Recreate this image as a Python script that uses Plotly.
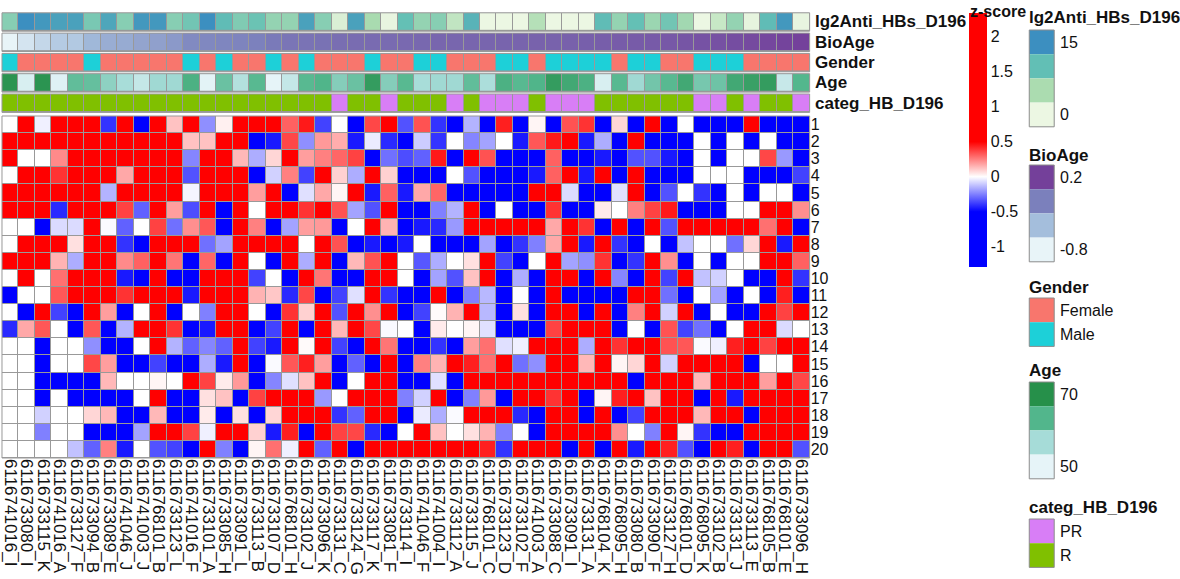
import plotly.graph_objects as go

W, H = 1180, 579
FONT = "Liberation Sans"

# ---- samples (columns) ----
samples = [
    "6116741016_I", "6116733080_I", "6116733115_K", "6116741016_A", "6116733127_F",
    "6116733094_B", "6116733089_E", "6116741046_J", "6116741003_J", "6116768101_B",
    "6116733123_L", "6116741016_F", "6116733101_A", "6116733085_H", "6116733091_L",
    "6116733113_B", "6116733107_D", "6116768101_H", "6116733102_J", "6116733096_K",
    "6116733131_C", "6116733124_G", "6116733117_K", "6116733081_F", "6116733114_I",
    "6116741046_F", "6116741004_I", "6116733112_A", "6116733115_J", "6116768101_C",
    "6116733123_D", "6116733102_F", "6116741003_A", "6116733088_C", "6116733091_I",
    "6116733131_A", "6116768104_K", "6116768095_H", "6116733080_B", "6116733090_F",
    "6116733127_H", "6116768101_D", "6116768095_K", "6116733102_B", "6116733131_J",
    "6116733113_E", "6116768105_B", "6116768101_E", "6116733096_H",
]
row_ids = [str(i) for i in range(1, 21)]

# ---- column annotations ----
ig2anti = [8, 16, 15, 14, 14, 9, 13.5, 8, 15, 15, 8, 9.5, 16, 11, 8.5, 10, 7, 7, 14, 8,
           1.5, 14, 5.5, 0.3, 10.5, 7, 8, 3.5, 12, 0, 0, 0, 4.5, 0, 0, 0, 11, 7, 10.5, 6.5,
           9.5, 6, 0, 3, 7, 0.5, 11, 15, 0.3]
bio_age = [-1.0, -0.87, -0.76, -0.66, -0.64, -0.51, -0.43, -0.41, -0.36, -0.33,
           -0.28, -0.17, -0.16, -0.14, -0.13, -0.11, -0.06, -0.02, -0.01, 0.0,
           0.03, 0.04, 0.05, 0.05, 0.06, 0.07, 0.08, 0.08, 0.09, 0.09,
           0.1, 0.1, 0.11, 0.11, 0.12, 0.13, 0.14, 0.15, 0.16, 0.17,
           0.18, 0.2, 0.22, 0.23, 0.26, 0.28, 0.3, 0.32, 0.34]
gender = ["Male", "Female", "Female", "Female", "Female", "Male", "Female", "Female", "Female", "Female",
          "Female", "Male", "Female", "Male", "Female", "Female", "Male", "Female", "Male", "Female",
          "Female", "Female", "Male", "Female", "Female", "Male", "Male", "Female", "Female", "Female",
          "Male", "Male", "Female", "Male", "Male", "Male", "Male", "Female", "Male", "Male",
          "Female", "Female", "Male", "Male", "Male", "Female", "Female", "Female", "Female"]
age = [73, 48, 73, 47, 63, 62.5, 58, 55, 51, 56, 56, 66, 46.5, 62, 53.5, 64, 46, 51, 64, 65,
       59, 62, 71, 59, 64, 55, 56, 56, 63, 54.5, 66, 64, 65, 71, 68, 66, 48, 64, 56, 61,
       64, 68, 60.5, 61.5, 68, 70, 71, 50.5, 64.5]
categ = ["R"] * 20 + ["PR", "R", "R", "PR", "R", "R", "R", "PR", "R", "PR",
                      "PR", "PR", "R", "PR", "PR", "PR", "R", "R", "R", "R",
                      "R", "R", "PR", "PR", "R", "PR", "R", "R", "PR"]

# ---- z-scores, one list per row (rows 1..20) ----
zscores = [
    [0, 1.2, -0.03, 1.2, 1.2, 1.2, -0.4, 1.2, -0.9, 1.2, 0.12, 1.2, -0.22, 0.03, 1.2, 1.2, 1.2, 0.31, 0.45, -0.37,
     0, -0.9, 0.36, 1.2, -0.34, 0.34, -0.4, -0.9, -0.15, -0.9, 0.44, -0.9, 0.02, -0.9, 0.34, 0.4, -0.9, 0.08, -0.9, 1.2,
     -0.9, 0, -0.9, -0.9, -0.9, 1.2, -0.9, -0.9, -0.9],
    [1.2, 1.2, 1.2, 1.2, 1.2, 1.2, 1.2, 1.2, 1.2, 1.2, 1.2, 0.12, 0.12, 1.2, 1.2, -0.9, -0.45, 0.36, -0.22, 0.2,
     0.16, -0.45, -0.04, -0.42, -0.9, -0.1, -0.4, 0, -0.24, -0.18, 0, -0.45, 0.33, 0.45, 1.2, -0.45, -0.16, -0.9, 1.2, -0.9,
     -0.9, -0.9, 0, -0.9, 0, -0.9, 0, -0.9, -0.9],
    [1.2, 0, 0, 0.23, 1.2, 1.2, 1.2, 1.2, 1.2, 1.2, 1.2, -0.24, 1.2, 1.2, 0.14, -0.16, 0.08, 1.2, 0.19, 0.25,
     0.3, 0.37, -0.9, -0.28, -0.35, -0.31, 0.45, -0.9, 1.2, 0.34, -0.9, -0.9, -0.9, 0.31, -0.9, -0.9, -0.45, -0.9, -0.34, -0.34,
     -0.45, -0.9, 0, -0.9, 0, 0, 0.36, -0.2, -0.9],
    [0, 1.2, 1.2, 0.4, 1.2, 1.2, 1.2, 0.17, 1.2, 1.2, 1.2, -0.34, 1.2, 1.2, 1.2, -0.9, -0.09, 0.25, -0.37, 1.2,
     0.09, -0.16, 1.2, 0.09, -0.9, -0.9, -0.9, 0, -0.34, -0.9, -0.9, -0.9, -0.45, 0.31, 1.2, -0.45, 1.2, -0.9, 1.2, -0.9,
     -0.9, -0.5, 0, 0, 0, -0.9, -0.9, -0.9, -0.37],
    [1.2, 1.2, 1.2, 1.2, 1.2, 1.2, -0.15, 1.2, 1.2, 1.2, 1.2, -0.02, 1.2, 1.2, 1.2, 0.19, 1.2, -0.9, -0.06, 0.17,
     0.02, 1.2, -0.45, 0.31, -0.45, 0.17, 0.3, -0.9, -0.9, -0.9, -0.9, -0.9, 1.2, 1.2, -0.07, -0.9, -0.9, -0.06, 1.2, -0.9,
     -0.34, 0, -0.4, -0.9, 0, -0.9, 0, 0, -0.9],
    [1.2, 1.2, 1.2, -0.42, 1.2, 1.2, 1.2, 0.37, -0.31, 1.2, 0.19, -0.35, 1.2, -0.9, 1.2, 0, 1.2, 1.2, 0.4, 1.2,
     0.34, -0.18, -0.34, 1.2, -0.9, -0.9, -0.25, -0.15, 1.2, -0.9, 0, -0.9, -0.9, 0.4, -0.9, -0.9, 0.04, 0, 0.25, 0.37,
     0.45, -0.9, -0.9, -0.9, 0, 0, 1.2, 1.2, 0.22],
    [0, 0, -0.9, -0.07, -0.07, 1.2, -0.01, -0.31, 0, 0.37, -0.28, 0.22, 0.33, -0.9, 1.2, 0.25, -0.9, -0.18, 0.19, 0.2,
     -0.5, 0, 1.2, 0.15, -0.9, -0.45, -0.42, -0.2, 1.2, 1.2, 1.2, 1.2, 1.2, 0.17, 1.2, 0.4, -0.9, 1.2, -0.9, 1.2,
     -0.34, 1.2, 1.2, 1.2, 1.2, 1.2, 0.28, 1.2, -0.9],
    [0, 1.2, 1.2, 1.2, 0.06, 1.2, 1.2, -0.4, -0.9, 1.2, 1.2, 1.2, -0.28, -0.18, 1.2, 1.2, 1.2, 1.2, 0, 1.2,
     0.34, -0.9, -0.45, -0.9, -0.45, 0, -0.9, -0.9, -0.9, -0.18, -0.9, -0.4, -0.25, 0.17, 1.2, -0.45, 1.2, -0.4, -0.9, 0,
     -0.9, -0.12, 0, 0, -0.28, 0.08, 1.2, -0.45, 1.2],
    [1.2, 1.2, 1.2, 0.15, -0.16, 1.2, 1.2, 0.23, 0.31, 1.2, 0.27, -0.9, 0.3, -0.9, 1.2, 0, -0.9, 1.2, -0.16, 1.2,
     -0.9, 0.14, 0.34, 1.2, 0, -0.33, -0.16, 0, 0.06, 1.2, -0.37, -0.9, 0, 1.2, -0.18, -0.22, 0.4, -0.9, -0.4, 1.2,
     0.22, -0.9, 0, -0.9, 0, 0, 1.2, 1.2, 0.31],
    [0, 1.2, 0, 0.28, 1.2, 1.2, 1.2, -0.45, -0.9, 1.2, -0.9, -0.9, 1.2, 1.2, 1.2, -0.37, 0, -0.9, 1.2, 0.27,
     -0.9, -0.9, 1.2, 1.2, 0, -0.9, -0.18, -0.34, 0.12, 1.2, -0.9, -0.16, -0.9, 1.2, 1.2, -0.9, 1.2, -0.24, -0.9, 1.2,
     -0.37, 1.2, -0.12, -0.09, 0, -0.9, -0.9, 1.2, -0.4],
    [-0.9, 0, 0, 0.33, 1.2, 1.2, 1.2, 0.4, 1.2, 1.2, 1.2, -0.45, 1.2, 1.2, 1.2, 0.15, 0.11, -0.42, 0.36, -0.9,
     -0.37, -0.06, 1.2, -0.4, -0.9, -0.9, 1.2, -0.9, -0.25, -0.14, -0.9, 0, -0.9, 1.2, -0.9, -0.9, -0.9, -0.9, 1.2, 1.2,
     -0.28, -0.9, 0, -0.18, -0.9, 0, -0.9, 0.44, -0.9],
    [0, -0.9, 1.2, -0.37, -0.9, 1.2, 0.19, -0.9, 0, 1.2, -0.9, 0, -0.25, 1.2, 1.2, 0, -0.9, 0.4, 0.09, 1.2,
     -0.34, 1.2, 0.22, 1.2, -0.9, -0.37, 0.01, 0.15, 1.2, -0.14, -0.9, 0.06, -0.9, 1.2, 1.2, -0.9, 1.2, -0.9, 0.25, 1.2,
     -0.09, 1.2, -0.9, 0, -0.9, -0.9, 1.2, 0.37, 1.2],
    [-0.42, 0.17, 0.33, 0, -0.9, 0.33, -0.9, -0.15, 1.2, 1.2, 0.4, -0.9, -0.45, 1.2, 1.2, -0.9, -0.37, 1.2, -0.9, 1.2,
     0.14, 1.2, 0.36, -0.01, 0, -0.9, 0.04, 0, 0.02, -0.06, -0.9, -0.9, -0.9, 0.37, 1.2, 1.2, 1.2, -0.9, 0, -0.9,
     0.34, -0.37, -0.28, -0.9, 0, 1.2, 1.2, -0.07, 0],
    [0, 0, -0.9, 0, 0, -0.22, -0.9, -0.9, 0, 1.2, -0.15, -0.31, -0.24, -0.31, 1.2, -0.37, -0.45, 1.2, 0.01, 1.2,
     -0.37, -0.9, 1.2, 0.27, -0.9, -0.9, -0.4, -0.9, 0.19, 0.28, -0.06, -0.03, 1.2, 1.2, 1.2, -0.16, 1.2, 0.4, 1.2, 1.2,
     0.34, 0.33, -0.01, -0.03, 0.44, 1.2, 0.37, 1.2, 1.2],
    [0, 0, -0.9, 0, 0, 0.36, 0.19, -0.9, -0.9, -0.37, -0.9, -0.9, -0.16, -0.45, 1.2, -0.9, -0.01, 0.33, 0.44, 0.19,
     -0.9, -0.31, -0.9, 1.2, -0.9, 0.25, 0.15, 1.2, 0.44, 0.28, 1.2, -0.28, -0.22, 1.2, 1.2, 0.14, 1.2, 0.02, 0.08, 1.2,
     -0.09, 1.2, 1.2, 1.2, 1.2, -0.9, 0, 0, 1.2],
    [0, 0, -0.9, -0.9, -0.9, -0.9, 0.14, 0, 0, 0.02, 0, 1.2, 0.37, 0.04, 0.2, -0.9, -0.24, -0.06, 0.12, 1.2,
     -0.9, 0, 1.2, 1.2, -0.9, -0.9, -0.06, -0.9, 1.2, 1.2, 1.2, 1.2, 1.2, 1.2, 1.2, 1.2, 1.2, 1.2, -0.9, 1.2,
     1.2, 1.2, 0.14, 1.2, 1.2, 1.2, 0.19, 1.2, 0.36],
    [0, 0, -0.9, 0, -0.9, -0.9, -0.9, -0.9, 0, 1.2, -0.9, -0.9, 0.06, 0.12, -0.9, 0.37, 1.2, 1.2, 1.2, -0.2,
     0, 1.2, 1.2, 1.2, -0.25, -0.09, 1.2, -0.9, -0.25, 0.2, -0.9, 1.2, 1.2, 0.4, 1.2, -0.9, 0.02, 0.44, 1.2, 0.12,
     1.2, 1.2, -0.9, 1.2, -0.45, 1.2, 1.2, 1.2, 1.2],
    [0, 0, -0.09, 0, 0, 0.08, 0.14, -0.9, -0.9, 0.14, -0.9, -0.9, 0.04, -0.9, 0.06, -0.9, 0.08, 1.2, 1.2, 1.2,
     -0.4, -0.31, 1.2, 1.2, -0.5, -0.04, -0.16, -0.01, 1.2, 1.2, 1.2, -0.42, -0.9, 1.2, 1.2, -0.9, 1.2, -0.9, -0.37, 1.2,
     1.2, 1.2, 0.14, 1.2, 1.2, -0.9, 1.2, 1.2, 1.2],
    [0, 0, -0.25, 0, 0, -0.9, -0.9, -0.9, -0.18, 1.2, 1.2, 0.37, -0.03, 1.2, 1.2, 0.09, -0.45, 0.44, -0.9, 1.2,
     0.37, 0.36, -0.42, -0.9, 0, 1.2, 0.12, 0, 0.06, 0.15, -0.25, 0, -0.9, 1.2, 1.2, 1.2, 1.2, 0.22, 0, -0.25,
     1.2, 0.02, -0.4, -0.9, -0.9, 1.2, 1.2, 1.2, 1.2],
    [0, 0, 0, 0, -0.12, -0.31, 0.25, -0.45, 0, -0.34, -0.37, -0.9, 1.2, -0.25, -0.9, 0.02, 0.28, -0.03, 1.2, -0.31,
     1.2, -0.9, 1.2, 1.2, 1.2, 1.2, 1.2, 1.2, 1.2, 0.44, -0.4, 1.2, 1.2, 1.2, -0.9, 1.2, -0.9, 1.2, -0.45, 1.2,
     0.44, -0.34, -0.9, 1.2, 0.44, -0.9, 1.2, 1.2, -0.34],
]

# ---- colours ----
Z_MIN, Z_MAX = -1.29, 2.34
z_ticks = [-1, -0.5, 0, 0.5, 1, 1.5, 2]
IG2_COLORS = ["#ecf7e3", "#abdcb0", "#62bfb5", "#3c8fc0"]
BIOAGE_COLORS = ["#e8f4f8", "#a4bedc", "#7b80bc", "#74409a"]
AGE_COLORS = ["#e6f4f8", "#a6dcd8", "#52b68c", "#26904a"]
GENDER_COLORS = {"Female": "#f8766d", "Male": "#1dd0d8"}
CATEG_COLORS = {"PR": "#d87ef6", "R": "#80c000"}
BORDER = "#999999"
TEXT = "#111111"


def norm(v):
    return (v - Z_MIN) / (Z_MAX - Z_MIN)


z_colorscale = [[0, "#0000ff"], [norm(-0.5), "#0000ff"], [norm(0), "#ffffff"],
                [norm(0.5), "#ff0000"], [1, "#ff0000"]]


def ramp(colors):
    n = len(colors) - 1
    return [[i / n, c] for i, c in enumerate(colors)]


def two_colour(c0, c1):
    return [[0, c0], [0.5, c0], [0.5, c1], [1, c1]]


def fx(p):
    return p / W


def fy(p):
    return 1 - p / H


# pixel geometry
X0, X1 = 1, 810
HM_TOP, HM_BOT = 116, 458
ANN_TOPS = [12.8, 33.1, 53.4, 73.7, 94.0]
ANN_H = 18.4

fig = go.Figure()

fig.add_trace(go.Heatmap(
    z=zscores, x=samples, y=row_ids, colorscale=z_colorscale, zmin=Z_MIN, zmax=Z_MAX,
    xgap=1, ygap=1, xaxis="x", yaxis="y",
    colorbar=dict(x=fx(970), xanchor="left", y=fy(13), yanchor="top",
                  len=254, lenmode="pixels", thickness=18, thicknessmode="pixels",
                  xpad=0, ypad=0, outlinewidth=0, tickvals=z_ticks,
                  ticktext=[f"{t:g}" for t in z_ticks], ticks="",
                  tickfont=dict(family=FONT, size=16, color=TEXT)),
))

annotation_rows = [
    ("lg2Anti_HBs_D196", ig2anti, ramp(IG2_COLORS), 0, 16),
    ("BioAge", bio_age, ramp(BIOAGE_COLORS), -1.0, 0.35),
    ("Gender", [0 if g == "Female" else 1 for g in gender],
     two_colour(GENDER_COLORS["Female"], GENDER_COLORS["Male"]), 0, 1),
    ("Age", age, ramp(AGE_COLORS), 46, 74),
    ("categ_HB_D196", [0 if c == "PR" else 1 for c in categ],
     two_colour(CATEG_COLORS["PR"], CATEG_COLORS["R"]), 0, 1),
]

layout = dict(
    width=W, height=H, margin=dict(l=0, r=0, t=0, b=0),
    paper_bgcolor="white", plot_bgcolor=BORDER,
    font=dict(family=FONT, color=TEXT),
    xaxis=dict(domain=[fx(X0), fx(X1)], anchor="y", type="category",
               range=[-0.5, len(samples) - 0.5], tickangle=90, ticks="",
               tickmode="array", tickvals=samples, ticktext=samples,
               showgrid=False, zeroline=False,
               tickfont=dict(family=FONT, size=17, color=TEXT)),
    yaxis=dict(domain=[fy(HM_BOT), fy(HM_TOP)], anchor="x", side="right",
               autorange="reversed", ticks="", showgrid=False, zeroline=False,
               tickmode="array", tickvals=row_ids, ticktext=row_ids,
               tickfont=dict(family=FONT, size=16, color=TEXT)),
)

annotations = []
shapes = []

for k, (name, vals, cs, lo, hi) in enumerate(annotation_rows):
    ax = f"y{k + 2}"
    top = ANN_TOPS[k]
    fig.add_trace(go.Heatmap(
        z=[vals], x=samples, y=[name], colorscale=cs, zmin=lo, zmax=hi,
        showscale=False, xgap=1, ygap=1, xaxis="x", yaxis=ax,
    ))
    layout[f"yaxis{k + 2}"] = dict(domain=[fy(top + ANN_H), fy(top)], anchor="x",
                                   showticklabels=False, ticks="", showgrid=False,
                                   zeroline=False, range=[-0.5, 0.5])
    annotations.append(dict(text=f"<b>{name}</b>", x=fx(813), y=fy(top + ANN_H / 2),
                            xref="paper", yref="paper", xanchor="left", yanchor="middle",
                            showarrow=False, font=dict(family=FONT, size=17, color=TEXT)))
    shapes.append(dict(type="rect", xref="paper", yref="paper", x0=fx(X0), x1=fx(X1),
                       y0=fy(top + ANN_H), y1=fy(top), line=dict(color=BORDER, width=1)))

shapes.append(dict(type="rect", xref="paper", yref="paper", x0=fx(X0), x1=fx(X1),
                   y0=fy(HM_BOT), y1=fy(HM_TOP), line=dict(color=BORDER, width=1)))

# colour bar title
annotations.append(dict(text="<b>z-score</b>", x=fx(999), y=fy(1), xref="paper", yref="paper",
                        xanchor="center", yanchor="top", showarrow=False,
                        font=dict(family=FONT, size=16, color=TEXT)))

# annotation legends on the right: title centre y, first block top y
legends = [
    ("lg2Anti_HBs_D196", 17, 30, IG2_COLORS[::-1], [("15", 0), ("0", 3)]),
    ("BioAge", 155, 165, BIOAGE_COLORS[::-1], [("0.2", 0), ("-0.8", 3)]),
    ("Gender", 287, 298, [GENDER_COLORS["Female"], GENDER_COLORS["Male"]], [("Female", 0), ("Male", 1)]),
    ("Age", 370, 382, AGE_COLORS[::-1], [("70", 0), ("50", 3)]),
    ("categ_HB_D196", 507, 519, [CATEG_COLORS["PR"], CATEG_COLORS["R"]], [("PR", 0), ("R", 1)]),
]
LX0, LX1, LB = 1030, 1055, 24.2
for title, ty, by, cols, labels in legends:
    annotations.append(dict(text=f"<b>{title}</b>", x=fx(1028), y=fy(ty), xref="paper", yref="paper",
                            xanchor="left", yanchor="middle", showarrow=False,
                            font=dict(family=FONT, size=17, color=TEXT)))
    for i, c in enumerate(cols):
        shapes.append(dict(type="rect", xref="paper", yref="paper", x0=fx(LX0), x1=fx(LX1),
                           y0=fy(by + (i + 1) * LB), y1=fy(by + i * LB),
                           fillcolor=c, line=dict(width=0)))
    shapes.append(dict(type="rect", xref="paper", yref="paper", x0=fx(LX0), x1=fx(LX1),
                       y0=fy(by + len(cols) * LB), y1=fy(by), line=dict(color="#8c8c8c", width=1)))
    for text, i in labels:
        annotations.append(dict(text=text, x=fx(1059), y=fy(by + (i + 0.5) * LB), xref="paper",
                                yref="paper", xanchor="left", yanchor="middle", showarrow=False,
                                font=dict(family=FONT, size=16, color=TEXT)))

layout["annotations"] = annotations
layout["shapes"] = shapes
fig.update_layout(**layout)

fig.write_html("out.html")
